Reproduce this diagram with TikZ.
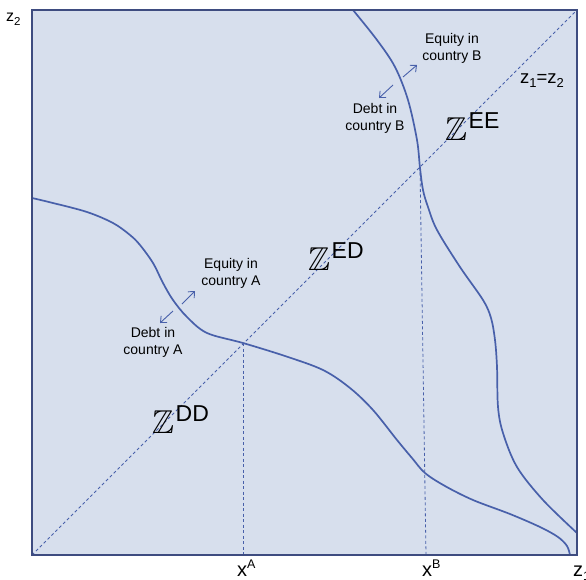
\documentclass[tikz,border=0pt]{standalone}
\usepackage{fontspec}
\setmainfont{Liberation Sans}
\usepackage{amssymb}
\usetikzlibrary{arrows.meta}
\definecolor{bgc}{RGB}{215,223,237}
\definecolor{framec}{RGB}{62,76,128}
\definecolor{curvec}{RGB}{72,96,170}
\tikzset{
  frame/.style={draw=framec,line width=2.8pt},
  curve/.style={draw=curvec,line width=1.7pt},
  guide/.style={draw=curvec,line width=0.8pt,dash pattern=on 3pt off 2.5pt},
  flow/.style={draw=curvec,line width=0.9pt,-{Straight Barb[length=5pt,width=9pt]}},
  lbl/.style={inner sep=0pt,align=center,font=\fontsize{14}{16.8}\selectfont},
  region/.style={inner sep=0pt,anchor=base west},
}
\newcommand{\zreg}[1]{{\fontsize{33}{33}\selectfont$\mathbb{Z}$}\hspace{1.5pt}\raisebox{12pt}{\fontsize{23}{23}\selectfont #1}}
\begin{document}
\begin{tikzpicture}[x=1pt,y=-1pt]
\useasboundingbox (0,0) rectangle (586,579);
\clip (0,0) rectangle (586,579);
\coordinate (O) at (32,555);
\coordinate (TL) at (32,10);
\coordinate (TR) at (577,10);
\coordinate (BR) at (577,555);
\fill[bgc] (TL) rectangle (BR);
% guides
\coordinate (pA) at (243,343);
\coordinate (bA) at (243,555);
\coordinate (pB) at (420,167);
\coordinate (bB) at (426,555);
\draw[guide] (O) -- (TR);
\draw[guide] (pA) -- (bA);
\draw[guide] (pB) -- (bB);
% country A curve
\draw[curve] plot[smooth,tension=0.55] coordinates {(32,198) (53,203) (87,212) (113,223) (130,235) (140,245) (153,263) (163,283) (173,300) (187,317) (207,333) (243,343) (285,356) (323,370) (350,388) (373,410) (397,440) (412,458) (425,473) (445,486) (473,500) (510,514) (540,527) (558,537) (567,546) (570,555)};
% country B curve
\draw[curve] plot[smooth,tension=0.55] coordinates {(353,10) (377,40) (395,67) (408,100) (417,140) (420,168) (423,190) (428,207) (437,230) (460,267) (483,300) (491,318) (495,340) (497,367) (498,407) (503,433) (517,467) (543,500) (577,533)};
% frame
\draw[frame] (TL) rectangle (BR);
% arrows A
\coordinate (aA1) at (173,311); \coordinate (aA2) at (160,323);
\coordinate (aA3) at (182,304); \coordinate (aA4) at (195,291);
\draw[flow] (aA1) -- (aA2);
\draw[flow] (aA3) -- (aA4);
% arrows B
\coordinate (aB1) at (393,85); \coordinate (aB2) at (379,98);
\coordinate (aB3) at (403,77); \coordinate (aB4) at (417,65);
\draw[flow] (aB1) -- (aB2);
\draw[flow] (aB3) -- (aB4);
% labels
\node[lbl] (eqB) at (452,48) {Equity in\\country B};
\node[lbl] (deB) at (375,118) {Debt in\\country B};
\node[lbl] (eqA) at (231,273) {Equity in\\country A};
\node[lbl] (deA) at (153,342) {Debt in\\country A};
\node[region] (zEE) at (445,140) {\zreg{EE}};
\node[region] (zED) at (308,270) {\zreg{ED}};
\node[region] (zDD) at (152,433) {\zreg{DD}};
\node[region,font=\fontsize{18.5}{18.5}\selectfont] (diag) at (520,83) {z\raisebox{-4.5pt}{\fontsize{13}{13}\selectfont 1}=z\raisebox{-4.5pt}{\fontsize{13}{13}\selectfont 2}};
\node[region,font=\fontsize{16}{16}\selectfont] (z2) at (6,21) {z\raisebox{-4pt}{\fontsize{11.5}{11.5}\selectfont 2}};
\node[region,font=\fontsize{20}{20}\selectfont] (xA) at (237,576) {x\raisebox{8pt}{\fontsize{12.5}{12.5}\selectfont A}};
\node[region,font=\fontsize{20}{20}\selectfont] (xB) at (422,576) {x\raisebox{8pt}{\fontsize{12.5}{12.5}\selectfont B}};
\node[region,font=\fontsize{20}{20}\selectfont] (z1) at (573,576) {z\raisebox{-4pt}{\fontsize{12.5}{12.5}\selectfont 1}};
\end{tikzpicture}
\end{document}
